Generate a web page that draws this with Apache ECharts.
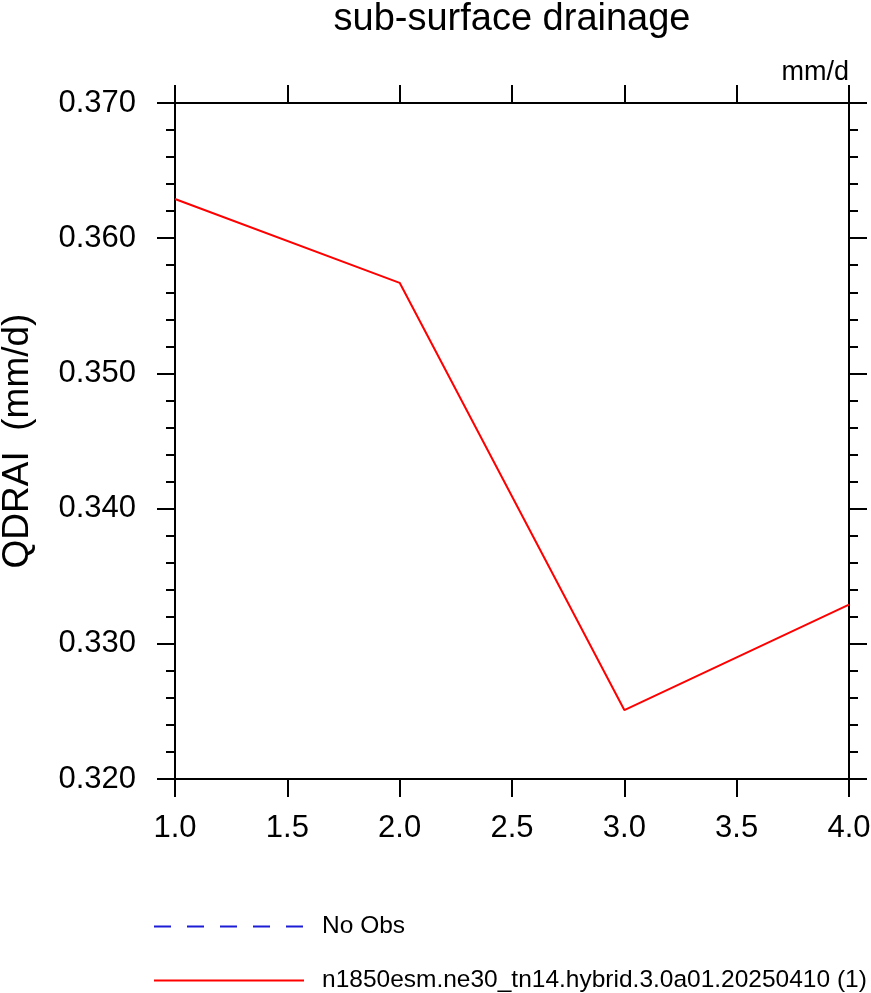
<!DOCTYPE html>
<html>
<head>
<meta charset="utf-8">
<script src="https://cdn.jsdelivr.net/npm/echarts@6/dist/echarts.min.js"></script>
<style>
html,body{margin:0;padding:0;background:#fff;}
#chart{width:871px;height:993px;}
</style>
</head>
<body>
<div id="chart"></div>
<script>
// ---- data ----
var xValues = [1, 2, 3, 4];
var modelValues = [0.3629, 0.3567, 0.3251, 0.3329];
var obsValues = [];
var seriesNames = ['No Obs', 'n1850esm.ne30_tn14.hybrid.3.0a01.20250410 (1)'];
var titleText = 'sub-surface drainage';
var unitText = 'mm/d';
var yAxisTitle = 'QDRAI  (mm/d)';

var FONT = '"Liberation Sans", Arial, Helvetica, sans-serif';
var chart = echarts.init(document.getElementById('chart'), null, {renderer: 'canvas'});

function pairs(xs, ys) { return ys.map(function (v, i) { return [xs[i], v]; }); }

var axisLine = {show: true, lineStyle: {color: '#000', width: 2}};
var tickStyle = {color: '#000', width: 2};

var option = {
  backgroundColor: '#fff',
  animation: false,
  title: [
    {text: titleText, left: 512, top: 1, textAlign: 'center', padding: 0,
     textStyle: {fontFamily: FONT, fontSize: 38, fontWeight: 'normal', color: '#000'}},
    {text: unitText, right: 22, top: 59, padding: 0,
     textStyle: {fontFamily: FONT, fontSize: 27, fontWeight: 'normal', color: '#000'}}
  ],
  grid: {left: 175, right: 22, top: 103, bottom: 214, containLabel: false, outerBoundsMode: 'none'},
  legend: {
    orient: 'vertical', left: 153, top: 914, padding: 0,
    itemWidth: 150, itemHeight: 24, itemGap: 29,
    data: seriesNames,
    itemStyle: {opacity: 0},
    textStyle: {fontFamily: FONT, fontSize: 24.5, color: '#000', padding: [0, 0, 0, 13]}
  },
  xAxis: [
    {type: 'value', position: 'bottom', min: 1, max: 4, interval: 0.5,
     axisLine: axisLine,
     axisTick: {show: true, inside: false, length: 18, lineStyle: tickStyle},
     axisLabel: {show: true, margin: 34, fontFamily: FONT, fontSize: 31, color: '#000',
       formatter: function (v) { return v.toFixed(1); }},
     splitLine: {show: false}},
    {type: 'value', position: 'top', min: 1, max: 4, interval: 0.5,
     axisLine: axisLine,
     axisTick: {show: true, inside: false, length: 18, lineStyle: tickStyle},
     axisLabel: {show: false}, splitLine: {show: false}}
  ],
  yAxis: [
    {type: 'value', position: 'left', min: 0.32, max: 0.37, interval: 0.01,
     name: yAxisTitle, nameLocation: 'middle', nameGap: 139,
     nameTextStyle: {fontFamily: FONT, fontSize: 37, color: '#000'},
     axisLine: axisLine,
     axisTick: {show: true, inside: false, length: 18, lineStyle: tickStyle},
     minorTick: {show: true, splitNumber: 5, length: 9, lineStyle: {color: '#000', width: 2}},
     axisLabel: {show: true, margin: 39, fontFamily: FONT, fontSize: 31, color: '#000',
       formatter: function (v) { return v.toFixed(3); }},
     splitLine: {show: false}, minorSplitLine: {show: false}},
    {type: 'value', position: 'right', min: 0.32, max: 0.37, interval: 0.01,
     axisLine: axisLine,
     axisTick: {show: true, inside: false, length: 18, lineStyle: tickStyle},
     minorTick: {show: true, splitNumber: 5, length: 9, lineStyle: {color: '#000', width: 2}},
     axisLabel: {show: false}, splitLine: {show: false}, minorSplitLine: {show: false}}
  ],
  series: [
    {name: seriesNames[0], type: 'line', xAxisIndex: 0, yAxisIndex: 0,
     data: pairs(xValues, obsValues), symbol: 'none', showSymbol: false,
     itemStyle: {color: '#1c1cd6'},
     lineStyle: {color: '#1c1cd6', width: 1.5, type: [17, 16]}},
    {name: seriesNames[1], type: 'line', xAxisIndex: 0, yAxisIndex: 0,
     data: pairs(xValues, modelValues), symbol: 'none', showSymbol: false,
     itemStyle: {color: '#ff0000'},
     lineStyle: {color: '#ff0000', width: 2}}
  ]
};
chart.setOption(option);
</script>
</body>
</html>
